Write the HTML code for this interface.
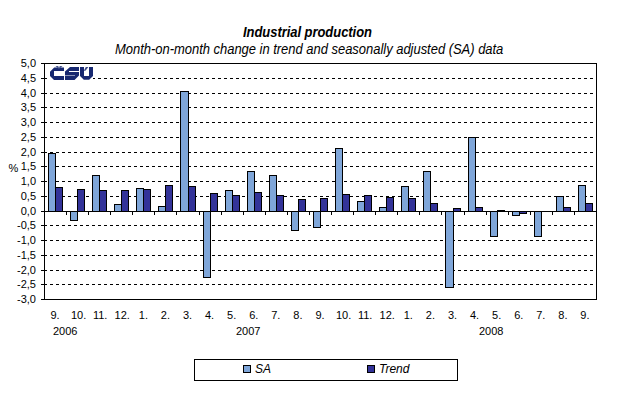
<!DOCTYPE html>
<html><head><meta charset="utf-8">
<style>
html,body{margin:0;padding:0;background:#fff;}
body{width:618px;height:396px;position:relative;overflow:hidden;font-family:"Liberation Sans",sans-serif;color:#000;}
svg.chart{position:absolute;left:0;top:0;shape-rendering:crispEdges;}
.t1{position:absolute;left:243px;top:24px;font-size:13px;font-weight:bold;font-style:italic;line-height:15px;letter-spacing:-0.05px;white-space:nowrap;transform:scaleY(1.1);transform-origin:0 0;}
.t2{position:absolute;left:115px;top:41px;font-size:13px;font-style:italic;line-height:15px;letter-spacing:-0.03px;white-space:nowrap;transform:scaleY(1.1);transform-origin:0 0;}
.yl{position:absolute;left:0;width:36px;text-align:right;font-size:11px;line-height:13px;}
.xl{position:absolute;top:309px;width:40px;text-align:center;font-size:11px;line-height:13px;}
.yr{position:absolute;top:325px;font-size:11px;line-height:13px;}
.pct{position:absolute;left:8.5px;top:162px;font-size:11px;line-height:13px;}
.leg{position:absolute;left:194px;top:359px;width:262px;height:20px;border:1px solid #000;}
.lm{position:absolute;top:5px;width:6px;height:6px;border:1px solid #000;}
.lt{position:absolute;top:2px;font-size:12px;font-style:italic;line-height:14px;}
</style></head><body>
<div class="t1">Industrial production</div>
<div class="t2">Month-on-month change in trend and seasonally adjusted (SA) data</div>
<svg class="chart" width="618" height="396" viewBox="0 0 618 396">
<path fill="#000" d="M44 78h3v1h-3zM50 78h3v1h-3zM56 78h3v1h-3zM62 78h3v1h-3zM68 78h3v1h-3zM74 78h3v1h-3zM80 78h3v1h-3zM86 78h3v1h-3zM92 78h3v1h-3zM98 78h3v1h-3zM104 78h3v1h-3zM110 78h3v1h-3zM116 78h3v1h-3zM122 78h3v1h-3zM128 78h3v1h-3zM134 78h3v1h-3zM140 78h3v1h-3zM146 78h3v1h-3zM152 78h3v1h-3zM158 78h3v1h-3zM164 78h3v1h-3zM170 78h3v1h-3zM176 78h3v1h-3zM182 78h3v1h-3zM188 78h3v1h-3zM194 78h3v1h-3zM200 78h3v1h-3zM206 78h3v1h-3zM212 78h3v1h-3zM218 78h3v1h-3zM224 78h3v1h-3zM230 78h3v1h-3zM236 78h3v1h-3zM242 78h3v1h-3zM248 78h3v1h-3zM254 78h3v1h-3zM260 78h3v1h-3zM266 78h3v1h-3zM272 78h3v1h-3zM278 78h3v1h-3zM284 78h3v1h-3zM290 78h3v1h-3zM296 78h3v1h-3zM302 78h3v1h-3zM308 78h3v1h-3zM314 78h3v1h-3zM320 78h3v1h-3zM326 78h3v1h-3zM332 78h3v1h-3zM338 78h3v1h-3zM344 78h3v1h-3zM350 78h3v1h-3zM356 78h3v1h-3zM362 78h3v1h-3zM368 78h3v1h-3zM374 78h3v1h-3zM380 78h3v1h-3zM386 78h3v1h-3zM392 78h3v1h-3zM398 78h3v1h-3zM404 78h3v1h-3zM410 78h3v1h-3zM416 78h3v1h-3zM422 78h3v1h-3zM428 78h3v1h-3zM434 78h3v1h-3zM440 78h3v1h-3zM446 78h3v1h-3zM452 78h3v1h-3zM458 78h3v1h-3zM464 78h3v1h-3zM470 78h3v1h-3zM476 78h3v1h-3zM482 78h3v1h-3zM488 78h3v1h-3zM494 78h3v1h-3zM500 78h3v1h-3zM506 78h3v1h-3zM512 78h3v1h-3zM518 78h3v1h-3zM524 78h3v1h-3zM530 78h3v1h-3zM536 78h3v1h-3zM542 78h3v1h-3zM548 78h3v1h-3zM554 78h3v1h-3zM560 78h3v1h-3zM566 78h3v1h-3zM572 78h3v1h-3zM578 78h3v1h-3zM584 78h3v1h-3zM590 78h3v1h-3zM44 93h3v1h-3zM50 93h3v1h-3zM56 93h3v1h-3zM62 93h3v1h-3zM68 93h3v1h-3zM74 93h3v1h-3zM80 93h3v1h-3zM86 93h3v1h-3zM92 93h3v1h-3zM98 93h3v1h-3zM104 93h3v1h-3zM110 93h3v1h-3zM116 93h3v1h-3zM122 93h3v1h-3zM128 93h3v1h-3zM134 93h3v1h-3zM140 93h3v1h-3zM146 93h3v1h-3zM152 93h3v1h-3zM158 93h3v1h-3zM164 93h3v1h-3zM170 93h3v1h-3zM176 93h3v1h-3zM182 93h3v1h-3zM188 93h3v1h-3zM194 93h3v1h-3zM200 93h3v1h-3zM206 93h3v1h-3zM212 93h3v1h-3zM218 93h3v1h-3zM224 93h3v1h-3zM230 93h3v1h-3zM236 93h3v1h-3zM242 93h3v1h-3zM248 93h3v1h-3zM254 93h3v1h-3zM260 93h3v1h-3zM266 93h3v1h-3zM272 93h3v1h-3zM278 93h3v1h-3zM284 93h3v1h-3zM290 93h3v1h-3zM296 93h3v1h-3zM302 93h3v1h-3zM308 93h3v1h-3zM314 93h3v1h-3zM320 93h3v1h-3zM326 93h3v1h-3zM332 93h3v1h-3zM338 93h3v1h-3zM344 93h3v1h-3zM350 93h3v1h-3zM356 93h3v1h-3zM362 93h3v1h-3zM368 93h3v1h-3zM374 93h3v1h-3zM380 93h3v1h-3zM386 93h3v1h-3zM392 93h3v1h-3zM398 93h3v1h-3zM404 93h3v1h-3zM410 93h3v1h-3zM416 93h3v1h-3zM422 93h3v1h-3zM428 93h3v1h-3zM434 93h3v1h-3zM440 93h3v1h-3zM446 93h3v1h-3zM452 93h3v1h-3zM458 93h3v1h-3zM464 93h3v1h-3zM470 93h3v1h-3zM476 93h3v1h-3zM482 93h3v1h-3zM488 93h3v1h-3zM494 93h3v1h-3zM500 93h3v1h-3zM506 93h3v1h-3zM512 93h3v1h-3zM518 93h3v1h-3zM524 93h3v1h-3zM530 93h3v1h-3zM536 93h3v1h-3zM542 93h3v1h-3zM548 93h3v1h-3zM554 93h3v1h-3zM560 93h3v1h-3zM566 93h3v1h-3zM572 93h3v1h-3zM578 93h3v1h-3zM584 93h3v1h-3zM590 93h3v1h-3zM44 107h3v1h-3zM50 107h3v1h-3zM56 107h3v1h-3zM62 107h3v1h-3zM68 107h3v1h-3zM74 107h3v1h-3zM80 107h3v1h-3zM86 107h3v1h-3zM92 107h3v1h-3zM98 107h3v1h-3zM104 107h3v1h-3zM110 107h3v1h-3zM116 107h3v1h-3zM122 107h3v1h-3zM128 107h3v1h-3zM134 107h3v1h-3zM140 107h3v1h-3zM146 107h3v1h-3zM152 107h3v1h-3zM158 107h3v1h-3zM164 107h3v1h-3zM170 107h3v1h-3zM176 107h3v1h-3zM182 107h3v1h-3zM188 107h3v1h-3zM194 107h3v1h-3zM200 107h3v1h-3zM206 107h3v1h-3zM212 107h3v1h-3zM218 107h3v1h-3zM224 107h3v1h-3zM230 107h3v1h-3zM236 107h3v1h-3zM242 107h3v1h-3zM248 107h3v1h-3zM254 107h3v1h-3zM260 107h3v1h-3zM266 107h3v1h-3zM272 107h3v1h-3zM278 107h3v1h-3zM284 107h3v1h-3zM290 107h3v1h-3zM296 107h3v1h-3zM302 107h3v1h-3zM308 107h3v1h-3zM314 107h3v1h-3zM320 107h3v1h-3zM326 107h3v1h-3zM332 107h3v1h-3zM338 107h3v1h-3zM344 107h3v1h-3zM350 107h3v1h-3zM356 107h3v1h-3zM362 107h3v1h-3zM368 107h3v1h-3zM374 107h3v1h-3zM380 107h3v1h-3zM386 107h3v1h-3zM392 107h3v1h-3zM398 107h3v1h-3zM404 107h3v1h-3zM410 107h3v1h-3zM416 107h3v1h-3zM422 107h3v1h-3zM428 107h3v1h-3zM434 107h3v1h-3zM440 107h3v1h-3zM446 107h3v1h-3zM452 107h3v1h-3zM458 107h3v1h-3zM464 107h3v1h-3zM470 107h3v1h-3zM476 107h3v1h-3zM482 107h3v1h-3zM488 107h3v1h-3zM494 107h3v1h-3zM500 107h3v1h-3zM506 107h3v1h-3zM512 107h3v1h-3zM518 107h3v1h-3zM524 107h3v1h-3zM530 107h3v1h-3zM536 107h3v1h-3zM542 107h3v1h-3zM548 107h3v1h-3zM554 107h3v1h-3zM560 107h3v1h-3zM566 107h3v1h-3zM572 107h3v1h-3zM578 107h3v1h-3zM584 107h3v1h-3zM590 107h3v1h-3zM44 122h3v1h-3zM50 122h3v1h-3zM56 122h3v1h-3zM62 122h3v1h-3zM68 122h3v1h-3zM74 122h3v1h-3zM80 122h3v1h-3zM86 122h3v1h-3zM92 122h3v1h-3zM98 122h3v1h-3zM104 122h3v1h-3zM110 122h3v1h-3zM116 122h3v1h-3zM122 122h3v1h-3zM128 122h3v1h-3zM134 122h3v1h-3zM140 122h3v1h-3zM146 122h3v1h-3zM152 122h3v1h-3zM158 122h3v1h-3zM164 122h3v1h-3zM170 122h3v1h-3zM176 122h3v1h-3zM182 122h3v1h-3zM188 122h3v1h-3zM194 122h3v1h-3zM200 122h3v1h-3zM206 122h3v1h-3zM212 122h3v1h-3zM218 122h3v1h-3zM224 122h3v1h-3zM230 122h3v1h-3zM236 122h3v1h-3zM242 122h3v1h-3zM248 122h3v1h-3zM254 122h3v1h-3zM260 122h3v1h-3zM266 122h3v1h-3zM272 122h3v1h-3zM278 122h3v1h-3zM284 122h3v1h-3zM290 122h3v1h-3zM296 122h3v1h-3zM302 122h3v1h-3zM308 122h3v1h-3zM314 122h3v1h-3zM320 122h3v1h-3zM326 122h3v1h-3zM332 122h3v1h-3zM338 122h3v1h-3zM344 122h3v1h-3zM350 122h3v1h-3zM356 122h3v1h-3zM362 122h3v1h-3zM368 122h3v1h-3zM374 122h3v1h-3zM380 122h3v1h-3zM386 122h3v1h-3zM392 122h3v1h-3zM398 122h3v1h-3zM404 122h3v1h-3zM410 122h3v1h-3zM416 122h3v1h-3zM422 122h3v1h-3zM428 122h3v1h-3zM434 122h3v1h-3zM440 122h3v1h-3zM446 122h3v1h-3zM452 122h3v1h-3zM458 122h3v1h-3zM464 122h3v1h-3zM470 122h3v1h-3zM476 122h3v1h-3zM482 122h3v1h-3zM488 122h3v1h-3zM494 122h3v1h-3zM500 122h3v1h-3zM506 122h3v1h-3zM512 122h3v1h-3zM518 122h3v1h-3zM524 122h3v1h-3zM530 122h3v1h-3zM536 122h3v1h-3zM542 122h3v1h-3zM548 122h3v1h-3zM554 122h3v1h-3zM560 122h3v1h-3zM566 122h3v1h-3zM572 122h3v1h-3zM578 122h3v1h-3zM584 122h3v1h-3zM590 122h3v1h-3zM44 137h3v1h-3zM50 137h3v1h-3zM56 137h3v1h-3zM62 137h3v1h-3zM68 137h3v1h-3zM74 137h3v1h-3zM80 137h3v1h-3zM86 137h3v1h-3zM92 137h3v1h-3zM98 137h3v1h-3zM104 137h3v1h-3zM110 137h3v1h-3zM116 137h3v1h-3zM122 137h3v1h-3zM128 137h3v1h-3zM134 137h3v1h-3zM140 137h3v1h-3zM146 137h3v1h-3zM152 137h3v1h-3zM158 137h3v1h-3zM164 137h3v1h-3zM170 137h3v1h-3zM176 137h3v1h-3zM182 137h3v1h-3zM188 137h3v1h-3zM194 137h3v1h-3zM200 137h3v1h-3zM206 137h3v1h-3zM212 137h3v1h-3zM218 137h3v1h-3zM224 137h3v1h-3zM230 137h3v1h-3zM236 137h3v1h-3zM242 137h3v1h-3zM248 137h3v1h-3zM254 137h3v1h-3zM260 137h3v1h-3zM266 137h3v1h-3zM272 137h3v1h-3zM278 137h3v1h-3zM284 137h3v1h-3zM290 137h3v1h-3zM296 137h3v1h-3zM302 137h3v1h-3zM308 137h3v1h-3zM314 137h3v1h-3zM320 137h3v1h-3zM326 137h3v1h-3zM332 137h3v1h-3zM338 137h3v1h-3zM344 137h3v1h-3zM350 137h3v1h-3zM356 137h3v1h-3zM362 137h3v1h-3zM368 137h3v1h-3zM374 137h3v1h-3zM380 137h3v1h-3zM386 137h3v1h-3zM392 137h3v1h-3zM398 137h3v1h-3zM404 137h3v1h-3zM410 137h3v1h-3zM416 137h3v1h-3zM422 137h3v1h-3zM428 137h3v1h-3zM434 137h3v1h-3zM440 137h3v1h-3zM446 137h3v1h-3zM452 137h3v1h-3zM458 137h3v1h-3zM464 137h3v1h-3zM470 137h3v1h-3zM476 137h3v1h-3zM482 137h3v1h-3zM488 137h3v1h-3zM494 137h3v1h-3zM500 137h3v1h-3zM506 137h3v1h-3zM512 137h3v1h-3zM518 137h3v1h-3zM524 137h3v1h-3zM530 137h3v1h-3zM536 137h3v1h-3zM542 137h3v1h-3zM548 137h3v1h-3zM554 137h3v1h-3zM560 137h3v1h-3zM566 137h3v1h-3zM572 137h3v1h-3zM578 137h3v1h-3zM584 137h3v1h-3zM590 137h3v1h-3zM44 152h3v1h-3zM50 152h3v1h-3zM56 152h3v1h-3zM62 152h3v1h-3zM68 152h3v1h-3zM74 152h3v1h-3zM80 152h3v1h-3zM86 152h3v1h-3zM92 152h3v1h-3zM98 152h3v1h-3zM104 152h3v1h-3zM110 152h3v1h-3zM116 152h3v1h-3zM122 152h3v1h-3zM128 152h3v1h-3zM134 152h3v1h-3zM140 152h3v1h-3zM146 152h3v1h-3zM152 152h3v1h-3zM158 152h3v1h-3zM164 152h3v1h-3zM170 152h3v1h-3zM176 152h3v1h-3zM182 152h3v1h-3zM188 152h3v1h-3zM194 152h3v1h-3zM200 152h3v1h-3zM206 152h3v1h-3zM212 152h3v1h-3zM218 152h3v1h-3zM224 152h3v1h-3zM230 152h3v1h-3zM236 152h3v1h-3zM242 152h3v1h-3zM248 152h3v1h-3zM254 152h3v1h-3zM260 152h3v1h-3zM266 152h3v1h-3zM272 152h3v1h-3zM278 152h3v1h-3zM284 152h3v1h-3zM290 152h3v1h-3zM296 152h3v1h-3zM302 152h3v1h-3zM308 152h3v1h-3zM314 152h3v1h-3zM320 152h3v1h-3zM326 152h3v1h-3zM332 152h3v1h-3zM338 152h3v1h-3zM344 152h3v1h-3zM350 152h3v1h-3zM356 152h3v1h-3zM362 152h3v1h-3zM368 152h3v1h-3zM374 152h3v1h-3zM380 152h3v1h-3zM386 152h3v1h-3zM392 152h3v1h-3zM398 152h3v1h-3zM404 152h3v1h-3zM410 152h3v1h-3zM416 152h3v1h-3zM422 152h3v1h-3zM428 152h3v1h-3zM434 152h3v1h-3zM440 152h3v1h-3zM446 152h3v1h-3zM452 152h3v1h-3zM458 152h3v1h-3zM464 152h3v1h-3zM470 152h3v1h-3zM476 152h3v1h-3zM482 152h3v1h-3zM488 152h3v1h-3zM494 152h3v1h-3zM500 152h3v1h-3zM506 152h3v1h-3zM512 152h3v1h-3zM518 152h3v1h-3zM524 152h3v1h-3zM530 152h3v1h-3zM536 152h3v1h-3zM542 152h3v1h-3zM548 152h3v1h-3zM554 152h3v1h-3zM560 152h3v1h-3zM566 152h3v1h-3zM572 152h3v1h-3zM578 152h3v1h-3zM584 152h3v1h-3zM590 152h3v1h-3zM44 166h3v1h-3zM50 166h3v1h-3zM56 166h3v1h-3zM62 166h3v1h-3zM68 166h3v1h-3zM74 166h3v1h-3zM80 166h3v1h-3zM86 166h3v1h-3zM92 166h3v1h-3zM98 166h3v1h-3zM104 166h3v1h-3zM110 166h3v1h-3zM116 166h3v1h-3zM122 166h3v1h-3zM128 166h3v1h-3zM134 166h3v1h-3zM140 166h3v1h-3zM146 166h3v1h-3zM152 166h3v1h-3zM158 166h3v1h-3zM164 166h3v1h-3zM170 166h3v1h-3zM176 166h3v1h-3zM182 166h3v1h-3zM188 166h3v1h-3zM194 166h3v1h-3zM200 166h3v1h-3zM206 166h3v1h-3zM212 166h3v1h-3zM218 166h3v1h-3zM224 166h3v1h-3zM230 166h3v1h-3zM236 166h3v1h-3zM242 166h3v1h-3zM248 166h3v1h-3zM254 166h3v1h-3zM260 166h3v1h-3zM266 166h3v1h-3zM272 166h3v1h-3zM278 166h3v1h-3zM284 166h3v1h-3zM290 166h3v1h-3zM296 166h3v1h-3zM302 166h3v1h-3zM308 166h3v1h-3zM314 166h3v1h-3zM320 166h3v1h-3zM326 166h3v1h-3zM332 166h3v1h-3zM338 166h3v1h-3zM344 166h3v1h-3zM350 166h3v1h-3zM356 166h3v1h-3zM362 166h3v1h-3zM368 166h3v1h-3zM374 166h3v1h-3zM380 166h3v1h-3zM386 166h3v1h-3zM392 166h3v1h-3zM398 166h3v1h-3zM404 166h3v1h-3zM410 166h3v1h-3zM416 166h3v1h-3zM422 166h3v1h-3zM428 166h3v1h-3zM434 166h3v1h-3zM440 166h3v1h-3zM446 166h3v1h-3zM452 166h3v1h-3zM458 166h3v1h-3zM464 166h3v1h-3zM470 166h3v1h-3zM476 166h3v1h-3zM482 166h3v1h-3zM488 166h3v1h-3zM494 166h3v1h-3zM500 166h3v1h-3zM506 166h3v1h-3zM512 166h3v1h-3zM518 166h3v1h-3zM524 166h3v1h-3zM530 166h3v1h-3zM536 166h3v1h-3zM542 166h3v1h-3zM548 166h3v1h-3zM554 166h3v1h-3zM560 166h3v1h-3zM566 166h3v1h-3zM572 166h3v1h-3zM578 166h3v1h-3zM584 166h3v1h-3zM590 166h3v1h-3zM44 181h3v1h-3zM50 181h3v1h-3zM56 181h3v1h-3zM62 181h3v1h-3zM68 181h3v1h-3zM74 181h3v1h-3zM80 181h3v1h-3zM86 181h3v1h-3zM92 181h3v1h-3zM98 181h3v1h-3zM104 181h3v1h-3zM110 181h3v1h-3zM116 181h3v1h-3zM122 181h3v1h-3zM128 181h3v1h-3zM134 181h3v1h-3zM140 181h3v1h-3zM146 181h3v1h-3zM152 181h3v1h-3zM158 181h3v1h-3zM164 181h3v1h-3zM170 181h3v1h-3zM176 181h3v1h-3zM182 181h3v1h-3zM188 181h3v1h-3zM194 181h3v1h-3zM200 181h3v1h-3zM206 181h3v1h-3zM212 181h3v1h-3zM218 181h3v1h-3zM224 181h3v1h-3zM230 181h3v1h-3zM236 181h3v1h-3zM242 181h3v1h-3zM248 181h3v1h-3zM254 181h3v1h-3zM260 181h3v1h-3zM266 181h3v1h-3zM272 181h3v1h-3zM278 181h3v1h-3zM284 181h3v1h-3zM290 181h3v1h-3zM296 181h3v1h-3zM302 181h3v1h-3zM308 181h3v1h-3zM314 181h3v1h-3zM320 181h3v1h-3zM326 181h3v1h-3zM332 181h3v1h-3zM338 181h3v1h-3zM344 181h3v1h-3zM350 181h3v1h-3zM356 181h3v1h-3zM362 181h3v1h-3zM368 181h3v1h-3zM374 181h3v1h-3zM380 181h3v1h-3zM386 181h3v1h-3zM392 181h3v1h-3zM398 181h3v1h-3zM404 181h3v1h-3zM410 181h3v1h-3zM416 181h3v1h-3zM422 181h3v1h-3zM428 181h3v1h-3zM434 181h3v1h-3zM440 181h3v1h-3zM446 181h3v1h-3zM452 181h3v1h-3zM458 181h3v1h-3zM464 181h3v1h-3zM470 181h3v1h-3zM476 181h3v1h-3zM482 181h3v1h-3zM488 181h3v1h-3zM494 181h3v1h-3zM500 181h3v1h-3zM506 181h3v1h-3zM512 181h3v1h-3zM518 181h3v1h-3zM524 181h3v1h-3zM530 181h3v1h-3zM536 181h3v1h-3zM542 181h3v1h-3zM548 181h3v1h-3zM554 181h3v1h-3zM560 181h3v1h-3zM566 181h3v1h-3zM572 181h3v1h-3zM578 181h3v1h-3zM584 181h3v1h-3zM590 181h3v1h-3zM44 196h3v1h-3zM50 196h3v1h-3zM56 196h3v1h-3zM62 196h3v1h-3zM68 196h3v1h-3zM74 196h3v1h-3zM80 196h3v1h-3zM86 196h3v1h-3zM92 196h3v1h-3zM98 196h3v1h-3zM104 196h3v1h-3zM110 196h3v1h-3zM116 196h3v1h-3zM122 196h3v1h-3zM128 196h3v1h-3zM134 196h3v1h-3zM140 196h3v1h-3zM146 196h3v1h-3zM152 196h3v1h-3zM158 196h3v1h-3zM164 196h3v1h-3zM170 196h3v1h-3zM176 196h3v1h-3zM182 196h3v1h-3zM188 196h3v1h-3zM194 196h3v1h-3zM200 196h3v1h-3zM206 196h3v1h-3zM212 196h3v1h-3zM218 196h3v1h-3zM224 196h3v1h-3zM230 196h3v1h-3zM236 196h3v1h-3zM242 196h3v1h-3zM248 196h3v1h-3zM254 196h3v1h-3zM260 196h3v1h-3zM266 196h3v1h-3zM272 196h3v1h-3zM278 196h3v1h-3zM284 196h3v1h-3zM290 196h3v1h-3zM296 196h3v1h-3zM302 196h3v1h-3zM308 196h3v1h-3zM314 196h3v1h-3zM320 196h3v1h-3zM326 196h3v1h-3zM332 196h3v1h-3zM338 196h3v1h-3zM344 196h3v1h-3zM350 196h3v1h-3zM356 196h3v1h-3zM362 196h3v1h-3zM368 196h3v1h-3zM374 196h3v1h-3zM380 196h3v1h-3zM386 196h3v1h-3zM392 196h3v1h-3zM398 196h3v1h-3zM404 196h3v1h-3zM410 196h3v1h-3zM416 196h3v1h-3zM422 196h3v1h-3zM428 196h3v1h-3zM434 196h3v1h-3zM440 196h3v1h-3zM446 196h3v1h-3zM452 196h3v1h-3zM458 196h3v1h-3zM464 196h3v1h-3zM470 196h3v1h-3zM476 196h3v1h-3zM482 196h3v1h-3zM488 196h3v1h-3zM494 196h3v1h-3zM500 196h3v1h-3zM506 196h3v1h-3zM512 196h3v1h-3zM518 196h3v1h-3zM524 196h3v1h-3zM530 196h3v1h-3zM536 196h3v1h-3zM542 196h3v1h-3zM548 196h3v1h-3zM554 196h3v1h-3zM560 196h3v1h-3zM566 196h3v1h-3zM572 196h3v1h-3zM578 196h3v1h-3zM584 196h3v1h-3zM590 196h3v1h-3zM44 225h3v1h-3zM50 225h3v1h-3zM56 225h3v1h-3zM62 225h3v1h-3zM68 225h3v1h-3zM74 225h3v1h-3zM80 225h3v1h-3zM86 225h3v1h-3zM92 225h3v1h-3zM98 225h3v1h-3zM104 225h3v1h-3zM110 225h3v1h-3zM116 225h3v1h-3zM122 225h3v1h-3zM128 225h3v1h-3zM134 225h3v1h-3zM140 225h3v1h-3zM146 225h3v1h-3zM152 225h3v1h-3zM158 225h3v1h-3zM164 225h3v1h-3zM170 225h3v1h-3zM176 225h3v1h-3zM182 225h3v1h-3zM188 225h3v1h-3zM194 225h3v1h-3zM200 225h3v1h-3zM206 225h3v1h-3zM212 225h3v1h-3zM218 225h3v1h-3zM224 225h3v1h-3zM230 225h3v1h-3zM236 225h3v1h-3zM242 225h3v1h-3zM248 225h3v1h-3zM254 225h3v1h-3zM260 225h3v1h-3zM266 225h3v1h-3zM272 225h3v1h-3zM278 225h3v1h-3zM284 225h3v1h-3zM290 225h3v1h-3zM296 225h3v1h-3zM302 225h3v1h-3zM308 225h3v1h-3zM314 225h3v1h-3zM320 225h3v1h-3zM326 225h3v1h-3zM332 225h3v1h-3zM338 225h3v1h-3zM344 225h3v1h-3zM350 225h3v1h-3zM356 225h3v1h-3zM362 225h3v1h-3zM368 225h3v1h-3zM374 225h3v1h-3zM380 225h3v1h-3zM386 225h3v1h-3zM392 225h3v1h-3zM398 225h3v1h-3zM404 225h3v1h-3zM410 225h3v1h-3zM416 225h3v1h-3zM422 225h3v1h-3zM428 225h3v1h-3zM434 225h3v1h-3zM440 225h3v1h-3zM446 225h3v1h-3zM452 225h3v1h-3zM458 225h3v1h-3zM464 225h3v1h-3zM470 225h3v1h-3zM476 225h3v1h-3zM482 225h3v1h-3zM488 225h3v1h-3zM494 225h3v1h-3zM500 225h3v1h-3zM506 225h3v1h-3zM512 225h3v1h-3zM518 225h3v1h-3zM524 225h3v1h-3zM530 225h3v1h-3zM536 225h3v1h-3zM542 225h3v1h-3zM548 225h3v1h-3zM554 225h3v1h-3zM560 225h3v1h-3zM566 225h3v1h-3zM572 225h3v1h-3zM578 225h3v1h-3zM584 225h3v1h-3zM590 225h3v1h-3zM44 240h3v1h-3zM50 240h3v1h-3zM56 240h3v1h-3zM62 240h3v1h-3zM68 240h3v1h-3zM74 240h3v1h-3zM80 240h3v1h-3zM86 240h3v1h-3zM92 240h3v1h-3zM98 240h3v1h-3zM104 240h3v1h-3zM110 240h3v1h-3zM116 240h3v1h-3zM122 240h3v1h-3zM128 240h3v1h-3zM134 240h3v1h-3zM140 240h3v1h-3zM146 240h3v1h-3zM152 240h3v1h-3zM158 240h3v1h-3zM164 240h3v1h-3zM170 240h3v1h-3zM176 240h3v1h-3zM182 240h3v1h-3zM188 240h3v1h-3zM194 240h3v1h-3zM200 240h3v1h-3zM206 240h3v1h-3zM212 240h3v1h-3zM218 240h3v1h-3zM224 240h3v1h-3zM230 240h3v1h-3zM236 240h3v1h-3zM242 240h3v1h-3zM248 240h3v1h-3zM254 240h3v1h-3zM260 240h3v1h-3zM266 240h3v1h-3zM272 240h3v1h-3zM278 240h3v1h-3zM284 240h3v1h-3zM290 240h3v1h-3zM296 240h3v1h-3zM302 240h3v1h-3zM308 240h3v1h-3zM314 240h3v1h-3zM320 240h3v1h-3zM326 240h3v1h-3zM332 240h3v1h-3zM338 240h3v1h-3zM344 240h3v1h-3zM350 240h3v1h-3zM356 240h3v1h-3zM362 240h3v1h-3zM368 240h3v1h-3zM374 240h3v1h-3zM380 240h3v1h-3zM386 240h3v1h-3zM392 240h3v1h-3zM398 240h3v1h-3zM404 240h3v1h-3zM410 240h3v1h-3zM416 240h3v1h-3zM422 240h3v1h-3zM428 240h3v1h-3zM434 240h3v1h-3zM440 240h3v1h-3zM446 240h3v1h-3zM452 240h3v1h-3zM458 240h3v1h-3zM464 240h3v1h-3zM470 240h3v1h-3zM476 240h3v1h-3zM482 240h3v1h-3zM488 240h3v1h-3zM494 240h3v1h-3zM500 240h3v1h-3zM506 240h3v1h-3zM512 240h3v1h-3zM518 240h3v1h-3zM524 240h3v1h-3zM530 240h3v1h-3zM536 240h3v1h-3zM542 240h3v1h-3zM548 240h3v1h-3zM554 240h3v1h-3zM560 240h3v1h-3zM566 240h3v1h-3zM572 240h3v1h-3zM578 240h3v1h-3zM584 240h3v1h-3zM590 240h3v1h-3zM44 255h3v1h-3zM50 255h3v1h-3zM56 255h3v1h-3zM62 255h3v1h-3zM68 255h3v1h-3zM74 255h3v1h-3zM80 255h3v1h-3zM86 255h3v1h-3zM92 255h3v1h-3zM98 255h3v1h-3zM104 255h3v1h-3zM110 255h3v1h-3zM116 255h3v1h-3zM122 255h3v1h-3zM128 255h3v1h-3zM134 255h3v1h-3zM140 255h3v1h-3zM146 255h3v1h-3zM152 255h3v1h-3zM158 255h3v1h-3zM164 255h3v1h-3zM170 255h3v1h-3zM176 255h3v1h-3zM182 255h3v1h-3zM188 255h3v1h-3zM194 255h3v1h-3zM200 255h3v1h-3zM206 255h3v1h-3zM212 255h3v1h-3zM218 255h3v1h-3zM224 255h3v1h-3zM230 255h3v1h-3zM236 255h3v1h-3zM242 255h3v1h-3zM248 255h3v1h-3zM254 255h3v1h-3zM260 255h3v1h-3zM266 255h3v1h-3zM272 255h3v1h-3zM278 255h3v1h-3zM284 255h3v1h-3zM290 255h3v1h-3zM296 255h3v1h-3zM302 255h3v1h-3zM308 255h3v1h-3zM314 255h3v1h-3zM320 255h3v1h-3zM326 255h3v1h-3zM332 255h3v1h-3zM338 255h3v1h-3zM344 255h3v1h-3zM350 255h3v1h-3zM356 255h3v1h-3zM362 255h3v1h-3zM368 255h3v1h-3zM374 255h3v1h-3zM380 255h3v1h-3zM386 255h3v1h-3zM392 255h3v1h-3zM398 255h3v1h-3zM404 255h3v1h-3zM410 255h3v1h-3zM416 255h3v1h-3zM422 255h3v1h-3zM428 255h3v1h-3zM434 255h3v1h-3zM440 255h3v1h-3zM446 255h3v1h-3zM452 255h3v1h-3zM458 255h3v1h-3zM464 255h3v1h-3zM470 255h3v1h-3zM476 255h3v1h-3zM482 255h3v1h-3zM488 255h3v1h-3zM494 255h3v1h-3zM500 255h3v1h-3zM506 255h3v1h-3zM512 255h3v1h-3zM518 255h3v1h-3zM524 255h3v1h-3zM530 255h3v1h-3zM536 255h3v1h-3zM542 255h3v1h-3zM548 255h3v1h-3zM554 255h3v1h-3zM560 255h3v1h-3zM566 255h3v1h-3zM572 255h3v1h-3zM578 255h3v1h-3zM584 255h3v1h-3zM590 255h3v1h-3zM44 270h3v1h-3zM50 270h3v1h-3zM56 270h3v1h-3zM62 270h3v1h-3zM68 270h3v1h-3zM74 270h3v1h-3zM80 270h3v1h-3zM86 270h3v1h-3zM92 270h3v1h-3zM98 270h3v1h-3zM104 270h3v1h-3zM110 270h3v1h-3zM116 270h3v1h-3zM122 270h3v1h-3zM128 270h3v1h-3zM134 270h3v1h-3zM140 270h3v1h-3zM146 270h3v1h-3zM152 270h3v1h-3zM158 270h3v1h-3zM164 270h3v1h-3zM170 270h3v1h-3zM176 270h3v1h-3zM182 270h3v1h-3zM188 270h3v1h-3zM194 270h3v1h-3zM200 270h3v1h-3zM206 270h3v1h-3zM212 270h3v1h-3zM218 270h3v1h-3zM224 270h3v1h-3zM230 270h3v1h-3zM236 270h3v1h-3zM242 270h3v1h-3zM248 270h3v1h-3zM254 270h3v1h-3zM260 270h3v1h-3zM266 270h3v1h-3zM272 270h3v1h-3zM278 270h3v1h-3zM284 270h3v1h-3zM290 270h3v1h-3zM296 270h3v1h-3zM302 270h3v1h-3zM308 270h3v1h-3zM314 270h3v1h-3zM320 270h3v1h-3zM326 270h3v1h-3zM332 270h3v1h-3zM338 270h3v1h-3zM344 270h3v1h-3zM350 270h3v1h-3zM356 270h3v1h-3zM362 270h3v1h-3zM368 270h3v1h-3zM374 270h3v1h-3zM380 270h3v1h-3zM386 270h3v1h-3zM392 270h3v1h-3zM398 270h3v1h-3zM404 270h3v1h-3zM410 270h3v1h-3zM416 270h3v1h-3zM422 270h3v1h-3zM428 270h3v1h-3zM434 270h3v1h-3zM440 270h3v1h-3zM446 270h3v1h-3zM452 270h3v1h-3zM458 270h3v1h-3zM464 270h3v1h-3zM470 270h3v1h-3zM476 270h3v1h-3zM482 270h3v1h-3zM488 270h3v1h-3zM494 270h3v1h-3zM500 270h3v1h-3zM506 270h3v1h-3zM512 270h3v1h-3zM518 270h3v1h-3zM524 270h3v1h-3zM530 270h3v1h-3zM536 270h3v1h-3zM542 270h3v1h-3zM548 270h3v1h-3zM554 270h3v1h-3zM560 270h3v1h-3zM566 270h3v1h-3zM572 270h3v1h-3zM578 270h3v1h-3zM584 270h3v1h-3zM590 270h3v1h-3zM44 284h3v1h-3zM50 284h3v1h-3zM56 284h3v1h-3zM62 284h3v1h-3zM68 284h3v1h-3zM74 284h3v1h-3zM80 284h3v1h-3zM86 284h3v1h-3zM92 284h3v1h-3zM98 284h3v1h-3zM104 284h3v1h-3zM110 284h3v1h-3zM116 284h3v1h-3zM122 284h3v1h-3zM128 284h3v1h-3zM134 284h3v1h-3zM140 284h3v1h-3zM146 284h3v1h-3zM152 284h3v1h-3zM158 284h3v1h-3zM164 284h3v1h-3zM170 284h3v1h-3zM176 284h3v1h-3zM182 284h3v1h-3zM188 284h3v1h-3zM194 284h3v1h-3zM200 284h3v1h-3zM206 284h3v1h-3zM212 284h3v1h-3zM218 284h3v1h-3zM224 284h3v1h-3zM230 284h3v1h-3zM236 284h3v1h-3zM242 284h3v1h-3zM248 284h3v1h-3zM254 284h3v1h-3zM260 284h3v1h-3zM266 284h3v1h-3zM272 284h3v1h-3zM278 284h3v1h-3zM284 284h3v1h-3zM290 284h3v1h-3zM296 284h3v1h-3zM302 284h3v1h-3zM308 284h3v1h-3zM314 284h3v1h-3zM320 284h3v1h-3zM326 284h3v1h-3zM332 284h3v1h-3zM338 284h3v1h-3zM344 284h3v1h-3zM350 284h3v1h-3zM356 284h3v1h-3zM362 284h3v1h-3zM368 284h3v1h-3zM374 284h3v1h-3zM380 284h3v1h-3zM386 284h3v1h-3zM392 284h3v1h-3zM398 284h3v1h-3zM404 284h3v1h-3zM410 284h3v1h-3zM416 284h3v1h-3zM422 284h3v1h-3zM428 284h3v1h-3zM434 284h3v1h-3zM440 284h3v1h-3zM446 284h3v1h-3zM452 284h3v1h-3zM458 284h3v1h-3zM464 284h3v1h-3zM470 284h3v1h-3zM476 284h3v1h-3zM482 284h3v1h-3zM488 284h3v1h-3zM494 284h3v1h-3zM500 284h3v1h-3zM506 284h3v1h-3zM512 284h3v1h-3zM518 284h3v1h-3zM524 284h3v1h-3zM530 284h3v1h-3zM536 284h3v1h-3zM542 284h3v1h-3zM548 284h3v1h-3zM554 284h3v1h-3zM560 284h3v1h-3zM566 284h3v1h-3zM572 284h3v1h-3zM578 284h3v1h-3zM584 284h3v1h-3zM590 284h3v1h-3zM41 63h3v1h-3zM41 78h3v1h-3zM41 93h3v1h-3zM41 107h3v1h-3zM41 122h3v1h-3zM41 137h3v1h-3zM41 152h3v1h-3zM41 166h3v1h-3zM41 181h3v1h-3zM41 196h3v1h-3zM41 211h3v1h-3zM41 225h3v1h-3zM41 240h3v1h-3zM41 255h3v1h-3zM41 270h3v1h-3zM41 284h3v1h-3zM41 299h3v1h-3zM44 63h553v1h-553zM44 299h553v1h-553zM44 63h1v237h-1zM596 63h1v237h-1zM44 211h553v1h-553zM66 212h1v3h-1zM88 212h1v3h-1zM110 212h1v3h-1zM132 212h1v3h-1zM154 212h1v3h-1zM176 212h1v3h-1zM199 212h1v3h-1zM221 212h1v3h-1zM243 212h1v3h-1zM265 212h1v3h-1zM287 212h1v3h-1zM309 212h1v3h-1zM331 212h1v3h-1zM353 212h1v3h-1zM375 212h1v3h-1zM397 212h1v3h-1zM419 212h1v3h-1zM441 212h1v3h-1zM464 212h1v3h-1zM486 212h1v3h-1zM508 212h1v3h-1zM530 212h1v3h-1zM552 212h1v3h-1zM574 212h1v3h-1z"/>
<rect x="48" y="153" width="8" height="59" fill="#000"/>
<rect x="49" y="154" width="6" height="57" fill="#7fa6d9"/>
<rect x="55" y="187" width="8" height="25" fill="#000"/>
<rect x="56" y="188" width="6" height="23" fill="#333399"/>
<rect x="70" y="211" width="8" height="10" fill="#000"/>
<rect x="71" y="212" width="6" height="8" fill="#7fa6d9"/>
<rect x="77" y="189" width="8" height="23" fill="#000"/>
<rect x="78" y="190" width="6" height="21" fill="#333399"/>
<rect x="92" y="175" width="8" height="37" fill="#000"/>
<rect x="93" y="176" width="6" height="35" fill="#7fa6d9"/>
<rect x="99" y="190" width="8" height="22" fill="#000"/>
<rect x="100" y="191" width="6" height="20" fill="#333399"/>
<rect x="114" y="204" width="8" height="8" fill="#000"/>
<rect x="115" y="205" width="6" height="6" fill="#7fa6d9"/>
<rect x="121" y="190" width="8" height="22" fill="#000"/>
<rect x="122" y="191" width="6" height="20" fill="#333399"/>
<rect x="136" y="188" width="8" height="24" fill="#000"/>
<rect x="137" y="189" width="6" height="22" fill="#7fa6d9"/>
<rect x="143" y="189" width="8" height="23" fill="#000"/>
<rect x="144" y="190" width="6" height="21" fill="#333399"/>
<rect x="158" y="206" width="8" height="6" fill="#000"/>
<rect x="159" y="207" width="6" height="4" fill="#7fa6d9"/>
<rect x="165" y="185" width="8" height="27" fill="#000"/>
<rect x="166" y="186" width="6" height="25" fill="#333399"/>
<rect x="180" y="91" width="9" height="121" fill="#000"/>
<rect x="181" y="92" width="7" height="119" fill="#7fa6d9"/>
<rect x="188" y="186" width="8" height="26" fill="#000"/>
<rect x="189" y="187" width="6" height="24" fill="#333399"/>
<rect x="203" y="211" width="8" height="67" fill="#000"/>
<rect x="204" y="212" width="6" height="65" fill="#7fa6d9"/>
<rect x="210" y="193" width="8" height="19" fill="#000"/>
<rect x="211" y="194" width="6" height="17" fill="#333399"/>
<rect x="225" y="190" width="8" height="22" fill="#000"/>
<rect x="226" y="191" width="6" height="20" fill="#7fa6d9"/>
<rect x="232" y="195" width="8" height="17" fill="#000"/>
<rect x="233" y="196" width="6" height="15" fill="#333399"/>
<rect x="247" y="171" width="8" height="41" fill="#000"/>
<rect x="248" y="172" width="6" height="39" fill="#7fa6d9"/>
<rect x="254" y="192" width="8" height="20" fill="#000"/>
<rect x="255" y="193" width="6" height="18" fill="#333399"/>
<rect x="269" y="175" width="8" height="37" fill="#000"/>
<rect x="270" y="176" width="6" height="35" fill="#7fa6d9"/>
<rect x="276" y="195" width="8" height="17" fill="#000"/>
<rect x="277" y="196" width="6" height="15" fill="#333399"/>
<rect x="291" y="211" width="8" height="20" fill="#000"/>
<rect x="292" y="212" width="6" height="18" fill="#7fa6d9"/>
<rect x="298" y="199" width="8" height="13" fill="#000"/>
<rect x="299" y="200" width="6" height="11" fill="#333399"/>
<rect x="313" y="211" width="8" height="17" fill="#000"/>
<rect x="314" y="212" width="6" height="15" fill="#7fa6d9"/>
<rect x="320" y="198" width="8" height="14" fill="#000"/>
<rect x="321" y="199" width="6" height="12" fill="#333399"/>
<rect x="335" y="148" width="8" height="64" fill="#000"/>
<rect x="336" y="149" width="6" height="62" fill="#7fa6d9"/>
<rect x="342" y="194" width="8" height="18" fill="#000"/>
<rect x="343" y="195" width="6" height="16" fill="#333399"/>
<rect x="357" y="201" width="8" height="11" fill="#000"/>
<rect x="358" y="202" width="6" height="9" fill="#7fa6d9"/>
<rect x="364" y="195" width="8" height="17" fill="#000"/>
<rect x="365" y="196" width="6" height="15" fill="#333399"/>
<rect x="379" y="207" width="8" height="5" fill="#000"/>
<rect x="380" y="208" width="6" height="3" fill="#7fa6d9"/>
<rect x="386" y="197" width="8" height="15" fill="#000"/>
<rect x="387" y="198" width="6" height="13" fill="#333399"/>
<rect x="401" y="186" width="8" height="26" fill="#000"/>
<rect x="402" y="187" width="6" height="24" fill="#7fa6d9"/>
<rect x="408" y="198" width="8" height="14" fill="#000"/>
<rect x="409" y="199" width="6" height="12" fill="#333399"/>
<rect x="423" y="171" width="8" height="41" fill="#000"/>
<rect x="424" y="172" width="6" height="39" fill="#7fa6d9"/>
<rect x="430" y="203" width="8" height="9" fill="#000"/>
<rect x="431" y="204" width="6" height="7" fill="#333399"/>
<rect x="445" y="211" width="9" height="77" fill="#000"/>
<rect x="446" y="212" width="7" height="75" fill="#7fa6d9"/>
<rect x="453" y="208" width="8" height="4" fill="#000"/>
<rect x="454" y="209" width="6" height="2" fill="#333399"/>
<rect x="468" y="137" width="8" height="75" fill="#000"/>
<rect x="469" y="138" width="6" height="73" fill="#7fa6d9"/>
<rect x="475" y="207" width="8" height="5" fill="#000"/>
<rect x="476" y="208" width="6" height="3" fill="#333399"/>
<rect x="490" y="211" width="8" height="26" fill="#000"/>
<rect x="491" y="212" width="6" height="24" fill="#7fa6d9"/>
<rect x="497" y="210" width="8" height="2" fill="#000"/>
<rect x="512" y="211" width="8" height="5" fill="#000"/>
<rect x="513" y="212" width="6" height="3" fill="#7fa6d9"/>
<rect x="519" y="211" width="8" height="3" fill="#000"/>
<rect x="520" y="212" width="6" height="1" fill="#333399"/>
<rect x="534" y="211" width="8" height="26" fill="#000"/>
<rect x="535" y="212" width="6" height="24" fill="#7fa6d9"/>
<rect x="541" y="211" width="8" height="1" fill="#000"/>
<rect x="556" y="196" width="8" height="16" fill="#000"/>
<rect x="557" y="197" width="6" height="14" fill="#7fa6d9"/>
<rect x="563" y="207" width="8" height="5" fill="#000"/>
<rect x="564" y="208" width="6" height="3" fill="#333399"/>
<rect x="578" y="185" width="8" height="27" fill="#000"/>
<rect x="579" y="186" width="6" height="25" fill="#7fa6d9"/>
<rect x="585" y="203" width="8" height="9" fill="#000"/>
<rect x="586" y="204" width="6" height="7" fill="#333399"/>
</svg>
<div class="yl" style="top:57px">5,0</div><div class="yl" style="top:72px">4,5</div><div class="yl" style="top:87px">4,0</div><div class="yl" style="top:101px">3,5</div><div class="yl" style="top:116px">3,0</div><div class="yl" style="top:131px">2,5</div><div class="yl" style="top:146px">2,0</div><div class="yl" style="top:160px">1,5</div><div class="yl" style="top:175px">1,0</div><div class="yl" style="top:190px">0,5</div><div class="yl" style="top:205px">0,0</div><div class="yl" style="top:219px">-0,5</div><div class="yl" style="top:234px">-1,0</div><div class="yl" style="top:249px">-1,5</div><div class="yl" style="top:264px">-2,0</div><div class="yl" style="top:278px">-2,5</div><div class="yl" style="top:293px">-3,0</div>
<div class="pct">%</div>
<div class="xl" style="left:35.04px">9.</div><div class="xl" style="left:58.62px">10.</div><div class="xl" style="left:80.20px">11.</div><div class="xl" style="left:102.28px">12.</div><div class="xl" style="left:123.36px">1.</div><div class="xl" style="left:145.44px">2.</div><div class="xl" style="left:167.52px">3.</div><div class="xl" style="left:189.60px">4.</div><div class="xl" style="left:211.68px">5.</div><div class="xl" style="left:233.76px">6.</div><div class="xl" style="left:255.84px">7.</div><div class="xl" style="left:277.92px">8.</div><div class="xl" style="left:300.00px">9.</div><div class="xl" style="left:323.58px">10.</div><div class="xl" style="left:345.16px">11.</div><div class="xl" style="left:367.24px">12.</div><div class="xl" style="left:388.32px">1.</div><div class="xl" style="left:410.40px">2.</div><div class="xl" style="left:432.48px">3.</div><div class="xl" style="left:454.56px">4.</div><div class="xl" style="left:476.64px">5.</div><div class="xl" style="left:498.72px">6.</div><div class="xl" style="left:520.80px">7.</div><div class="xl" style="left:542.88px">8.</div><div class="xl" style="left:564.96px">9.</div>
<div class="yr" style="left:53px">2006</div><div class="yr" style="left:236px">2007</div><div class="yr" style="left:479px">2008</div>
<div class="leg">
<div class="lm" style="left:48px;background:#7fa6d9"></div><div class="lt" style="left:60px">SA</div>
<div class="lm" style="left:172px;background:#333399"></div><div class="lt" style="left:184px">Trend</div>
</div>
<svg class="logo" width="618" height="396" viewBox="0 0 618 396" style="position:absolute;left:0;top:0">
<rect x="47" y="64" width="46" height="17" fill="#fff"/>
<g fill="#172870">
<path d="M54.2,67.6 L64,67.6 L64,71 L54,71 L54,76 L64,76 L64,80 L54,80 L50,76 L50,71.8 Z"/>
<path opacity="0.8" d="M55.4,66 L57.8,66 L59,67.1 L60.2,66 L62.6,66 L60.4,67.8 L57.6,67.8 Z"/>
<path d="M70,67 L79,67 L79,71 L69,71 L69,72 L79,72 L79,75.5 L74.5,80 L65,80 L65,76 L75,76 L75,75 L65,75 L65,71.5 Z"/>
<path d="M80,67 L84,67 L84,76 L89,76 L89,67 L93,67 L93,76 L89.2,79.8 L83.8,79.8 L80,76 Z"/>
<path opacity="0.85" d="M85.8,67 L88.4,67 L85.4,70.8 L83.8,70.8 Z"/>
</g>
<path d="M57.9,67.6 L60.1,67.6 L59,68.8 Z" fill="#fff" opacity="0.45"/>
<rect x="65" y="75" width="10" height="1" fill="#172870" opacity="0.5"/>
</svg>
</body></html>
